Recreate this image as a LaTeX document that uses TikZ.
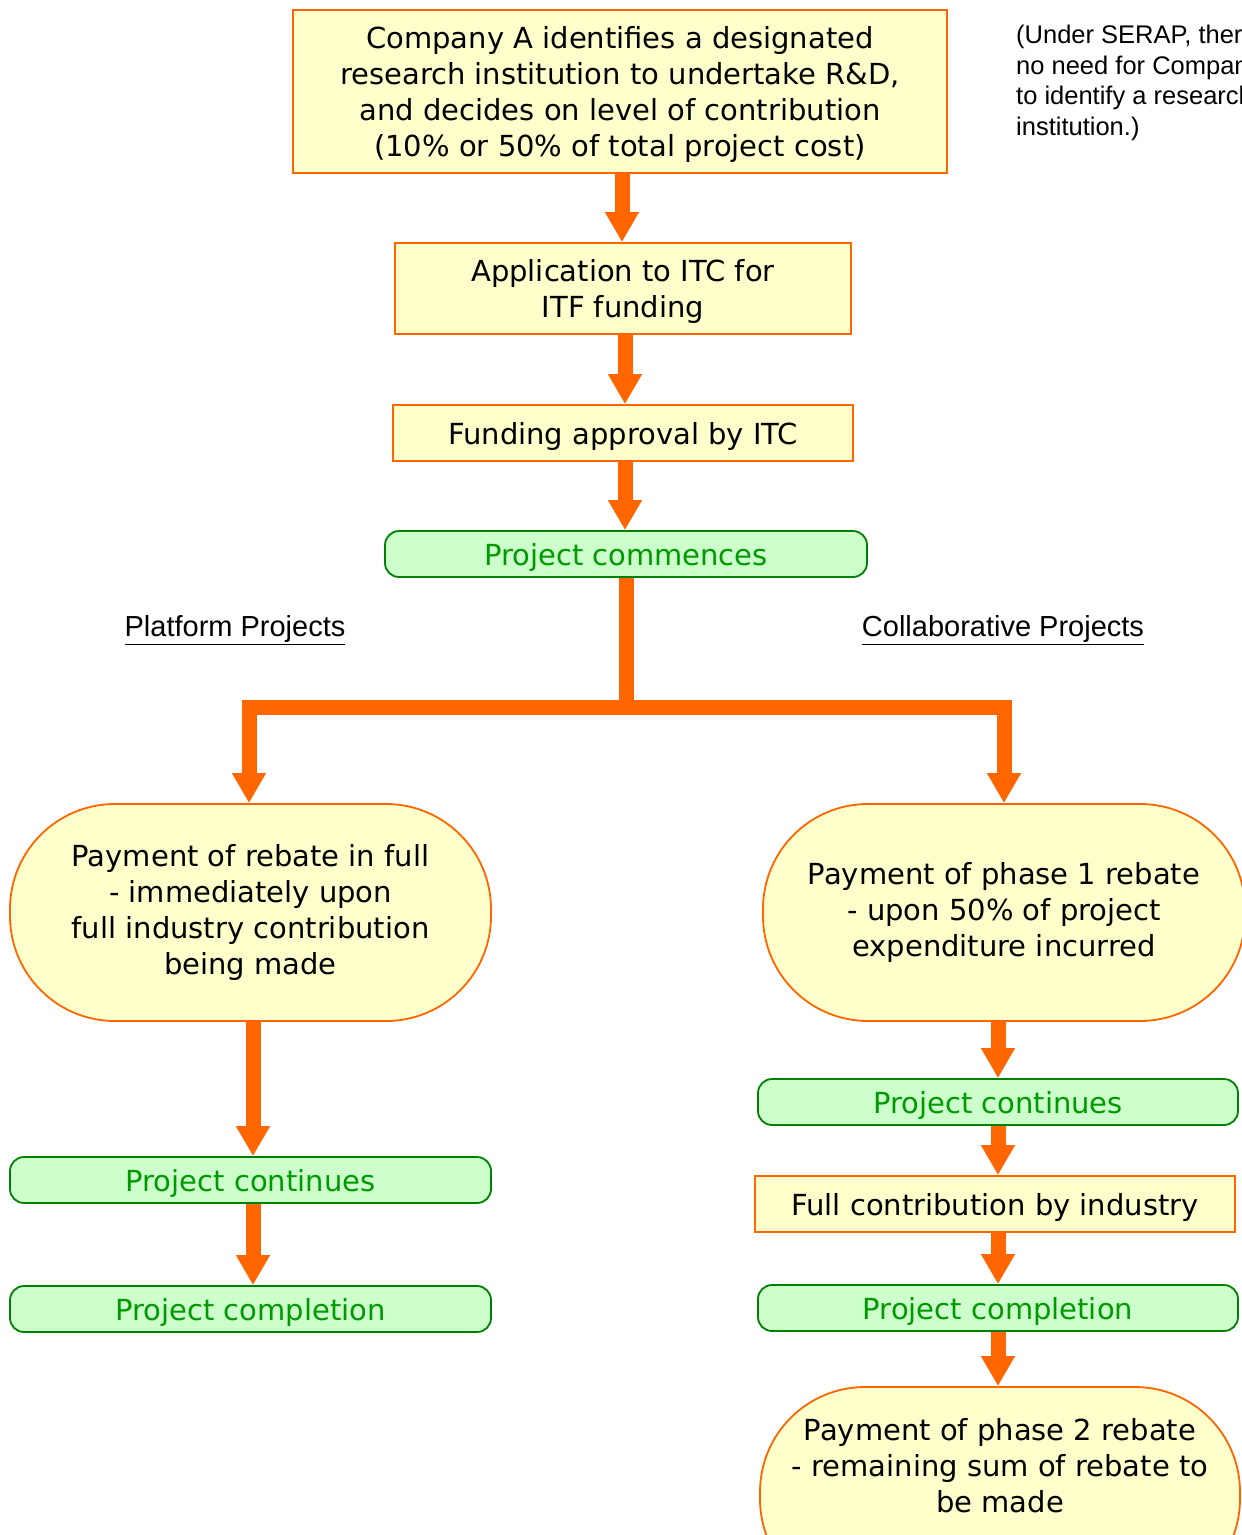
\documentclass[tikz,border=0pt]{standalone}
\usepackage{fontspec}
\setmainfont{DejaVu Sans}
\newfontfamily\arialf{Liberation Sans}
\usetikzlibrary{arrows.meta}
\definecolor{orng}{HTML}{FF6600}
\definecolor{ylw}{HTML}{FFFFCC}
\definecolor{grnfill}{HTML}{CCFFCC}
\definecolor{grnline}{HTML}{008000}
\definecolor{grntext}{HTML}{009900}
\begin{document}
\begin{tikzpicture}[x=1pt,y=-1pt,
  ybox/.style={draw=orng, fill=ylw, line width=1.8pt, align=center, inner sep=0pt,
    font=\fontsize{29}{36}\selectfont},
  rbox/.style={ybox, text depth=0pt},
  gbox/.style={draw=grnline, fill=grnfill, line width=1.8pt, rounded corners=14pt,
    text=grntext, align=center, inner sep=0pt, minimum height=46pt, text depth=0pt,
    font=\fontsize{29}{36}\selectfont},
  paybox/.style={ybox, rounded corners=105pt, minimum height=217pt},
  flow/.style={draw=orng, line width=15pt, line join=miter,
    -{Triangle[width=32pt,length=30pt]}},
  heading/.style={font=\arialf\fontsize{29}{34}\selectfont, inner sep=0pt},
]
\useasboundingbox (0,0) rectangle (1242,1535);
\clip (0,0) rectangle (1242,1535);

% top chain
\node[rbox, minimum width=654pt, minimum height=163pt] (b1) at (620,91.5)
  {Company A identifies a designated\\research institution to undertake R\&D,\\and decides on level of contribution\\(10\% or 50\% of total project cost)};
\node[rbox, minimum width=456pt, minimum height=91pt] (b2) at (623,288.5)
  {Application to ITC for\\ITF funding};
\node[rbox, minimum width=460pt, minimum height=56pt] (b3) at (623,433)
  {Funding approval by ITC};
\node[gbox, minimum width=482pt] (g0) at (626,554) {Project commences};

% note
\node[anchor=north west, align=left, inner sep=0pt,
  font=\arialf\fontsize{25.5}{30.5}\selectfont] (note) at (1016,25)
  {(Under SERAP, there is\\no need for Company A\\to identify a research\\institution.)};

% headings
\node[heading] (hl) at (235,630) {\underline{Platform Projects}};
\node[heading] (hr) at (1003,630) {\underline{Collaborative Projects}};

% left branch
\node[paybox, minimum width=481pt] (pL) at (250.5,912.5)
  {Payment of rebate in full\\- immediately upon\\full industry contribution\\being made};
\node[gbox, minimum width=481pt] (gL1) at (250.5,1180) {Project continues};
\node[gbox, minimum width=481pt] (gL2) at (250.5,1309) {Project completion};

% right branch
\node[paybox, minimum width=482pt] (pR) at (1004,912.5)
  {Payment of phase 1 rebate\\- upon 50\% of project\\expenditure incurred};
\node[gbox, minimum width=480pt] (gR1) at (998,1102) {Project continues};
\node[rbox, minimum width=480pt, minimum height=56pt] (fR) at (995,1204)
  {Full contribution by industry};
\node[gbox, minimum width=480pt] (gR2) at (998,1308) {Project completion};
\node[paybox, minimum width=480pt] (pR2) at (1000,1495.5) {};
\node[align=center, inner sep=0pt, font=\fontsize{29}{36}\selectfont] (pR2t) at (1000,1466)
  {Payment of phase 2 rebate\\- remaining sum of rebate to\\be made};

% connectors
\draw[flow] (b1.south -| 622,0) -- (b2.north -| 622,0);
\draw[flow] (b2.south -| 625,0) -- (b3.north -| 625,0);
\draw[flow] (b3.south -| 625,0) -- (g0.north -| 625,0);

\coordinate (j) at (626,707);
\coordinate (jl) at (249,707);
\coordinate (jr) at (1004,707);
\draw[draw=orng, line width=15pt] (g0.south) -- ([yshift=7pt]j);
\draw[flow] ([xshift=1pt]j) -- (jl) -- (jl |- pL.north);
\draw[flow] ([xshift=-1pt]j) -- (jr) -- (jr |- pR.north);

\draw[flow] (pL.south -| 253,0) -- (gL1.north -| 253,0);
\draw[flow] (gL1.south -| 253,0) -- (gL2.north -| 253,0);

\draw[flow] (gR1.north |- pR.south) -- (gR1.north);
\draw[flow] (gR1.south) -- (gR1.south |- fR.north);
\draw[flow] (gR2.north |- fR.south) -- (gR2.north);
\draw[flow] (gR2.south) -- (gR2.south |- pR2.north);
\end{tikzpicture}
\end{document}
